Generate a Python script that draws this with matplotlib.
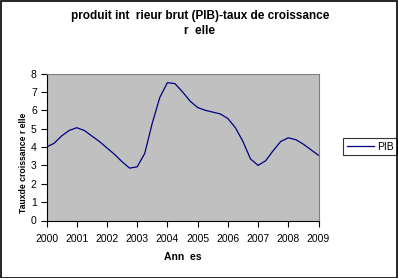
import matplotlib
matplotlib.use("Agg")
import matplotlib.pyplot as plt
from matplotlib.patches import Rectangle

plt.rcParams['font.family'] = ['Liberation Sans', 'DejaVu Sans']

# quarterly positions, 2000 -> 2009
periodes = [2000 + q / 4 for q in range(37)]
pib = [4.0, 4.2, 4.6, 4.9, 5.05, 4.9, 4.6, 4.3, 3.95,
       3.6, 3.2, 2.85, 2.92, 3.65, 5.3, 6.7, 7.5, 7.45,
       7.0, 6.5, 6.15, 6.0, 5.9, 5.8, 5.55, 5.05, 4.3,
       3.35, 3.0, 3.25, 3.8, 4.3, 4.5, 4.4, 4.15, 3.85, 3.55]
annees = [2000, 2001, 2002, 2003, 2004, 2005, 2006, 2007, 2008, 2009]
yticks = [0, 1, 2, 3, 4, 5, 6, 7, 8]

W, H = 398, 278
fig = plt.figure(figsize=(W / 100, H / 100), dpi=100)
fig.patches.append(Rectangle((0.5 / W, 0.5 / H), 1 - 1.5 / W, 1 - 1.5 / H,
                             transform=fig.transFigure, fill=False,
                             edgecolor='black', linewidth=1.2))

x0, x1 = 46.5, 318.5
y0, y1 = 220.5, 73.5
ax = fig.add_axes([x0 / W, 1 - y0 / H, (x1 - x0) / W, (y0 - y1) / H])
ax.set_facecolor('#c0c0c0')

ax.plot(periodes, pib, color='#000080', linewidth=0.9, label='PIB')

ax.set_xlim(2000, 2009)
ax.set_ylim(0, 8)
ax.set_xticks(annees)
ax.set_yticks(yticks)
ax.tick_params(axis='both', direction='out', length=4, width=0.8,
               labelsize=7.5, pad=3)
ax.tick_params(axis='x', pad=6)

for s in ['top', 'right']:
    ax.spines[s].set_color('#808080')
    ax.spines[s].set_linewidth(0.8)
for s in ['left', 'bottom']:
    ax.spines[s].set_color('black')
    ax.spines[s].set_linewidth(0.8)

fig.text(200 / W, 1 - 16 / H, "produit int  rieur brut (PIB)-taux de croissance",
         ha='center', va='center', fontsize=8.5, fontweight='bold')
fig.text(200 / W, 1 - 31 / H, "r  elle",
         ha='center', va='center', fontsize=8.5, fontweight='bold')

fig.text(24 / W, 1 - 163 / H, "Tauxde croissance r elle", rotation=90,
         ha='center', va='center', fontsize=6.2, fontweight='bold')
fig.text(183 / W, 1 - 257 / H, "Ann  es",
         ha='center', va='center', fontsize=7.5, fontweight='bold')

leg = ax.legend(loc='center left', bbox_to_anchor=(343 / W, 1 - 146.5 / H),
                bbox_transform=fig.transFigure, frameon=True, fancybox=False,
                fontsize=7.5, handlelength=2.6, handletextpad=0.3,
                borderpad=0.35, borderaxespad=0)
leg.get_frame().set_edgecolor('black')
leg.get_frame().set_linewidth(0.8)

fig.savefig('out.png', dpi=100)
